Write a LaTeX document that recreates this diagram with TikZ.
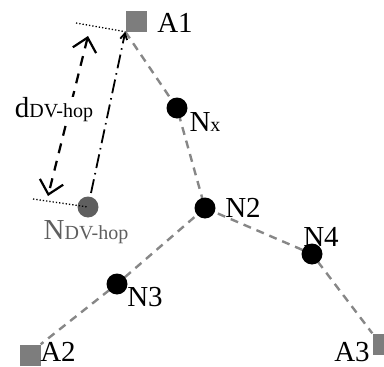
\documentclass[tikz,border=0pt]{standalone}
\usepackage{fontspec}
\setmainfont{Liberation Serif}
\usetikzlibrary{arrows.meta,backgrounds}
\definecolor{anchorgray}{RGB}{125,125,125}
\definecolor{linkgray}{RGB}{135,135,135}
\definecolor{estgray}{RGB}{95,95,95}
\newcommand{\subtxt}[1]{{\fontsize{20}{20}\selectfont #1}}
\tikzset{
  anchornode/.style={rectangle, fill=anchorgray, minimum size=21pt, inner sep=0pt},
  sensor/.style={circle, fill=black, minimum size=21pt, inner sep=0pt},
  estnode/.style={circle, fill=estgray, minimum size=21pt, inner sep=0pt},
  lbl/.style={inner sep=0pt, font=\fontsize{29}{29}\selectfont},
  link/.style={draw=linkgray, line width=2.4pt, dash pattern=on 8pt off 6pt},
}
\begin{document}
\begin{tikzpicture}[x=1pt, y=-1pt]
    \useasboundingbox (0,0) rectangle (384,367);
    % anchors
    \node[anchornode] (A1) at (136,21) {};
    \node[anchornode] (A2) at (30,355) {};
    \node[anchornode] (A3) at (383,344) {};
    % unknown nodes
    \node[sensor] (Nx) at (177,108) {};
    \node[sensor] (N2) at (205,208) {};
    \node[sensor] (N3) at (117,284) {};
    \node[sensor] (N4) at (312,254) {};
    \node[estnode] (Ndv) at (88,207) {};
    % hop links
    \begin{scope}[on background layer]
        \draw[link] (A1.south west) -- (Nx.center) -- (N2.center) -- (N4.center) -- (A3.north west);
        \draw[link] (N2.center) -- (N3.center) -- (A2.north east);
    \end{scope}
    % distance marks
    \coordinate (t1) at (76,23);
    \coordinate (t2) at (33,199);
    \coordinate (s1) at (91,193);
    \coordinate (d1) at (88,36);
    \coordinate (d2) at (48,196);
	\draw[dotted, line width=1.3pt] (t1) -- (A1.south west);
	\draw[dotted, line width=1.3pt] (t2) -- (Ndv.center);
    \draw[line width=1.8pt, dash pattern=on 14pt off 5pt on 1.5pt off 5pt, -{Straight Barb[length=6pt,width=7pt]}] (s1) -- (A1.south west);
    \draw[line width=2.2pt, dash pattern=on 10pt off 8pt, {Straight Barb[length=13pt,width=24pt]}-{Straight Barb[length=13pt,width=24pt]}] (d1) -- (d2);
    % labels
    \node[lbl] (lA1) at (175,23) {A1};
    \node[lbl] (lA2) at (58,352) {A2};
    \node[lbl] (lA3) at (352,352) {A3};
    \node[lbl] (lNx) at (205,122) {N\subtxt{x}};
    \node[lbl] (lN2) at (243,208) {N2};
    \node[lbl] (lN3) at (145,297) {N3};
    \node[lbl] (lN4) at (321,237) {N4};
    \node[lbl, text=estgray] (lNdv) at (86,232) {N\subtxt{DV-hop}};
    \node[lbl, fill=white, inner sep=1pt] (ldv) at (54,110) {d\subtxt{DV-hop}};
\end{tikzpicture}
\end{document}
